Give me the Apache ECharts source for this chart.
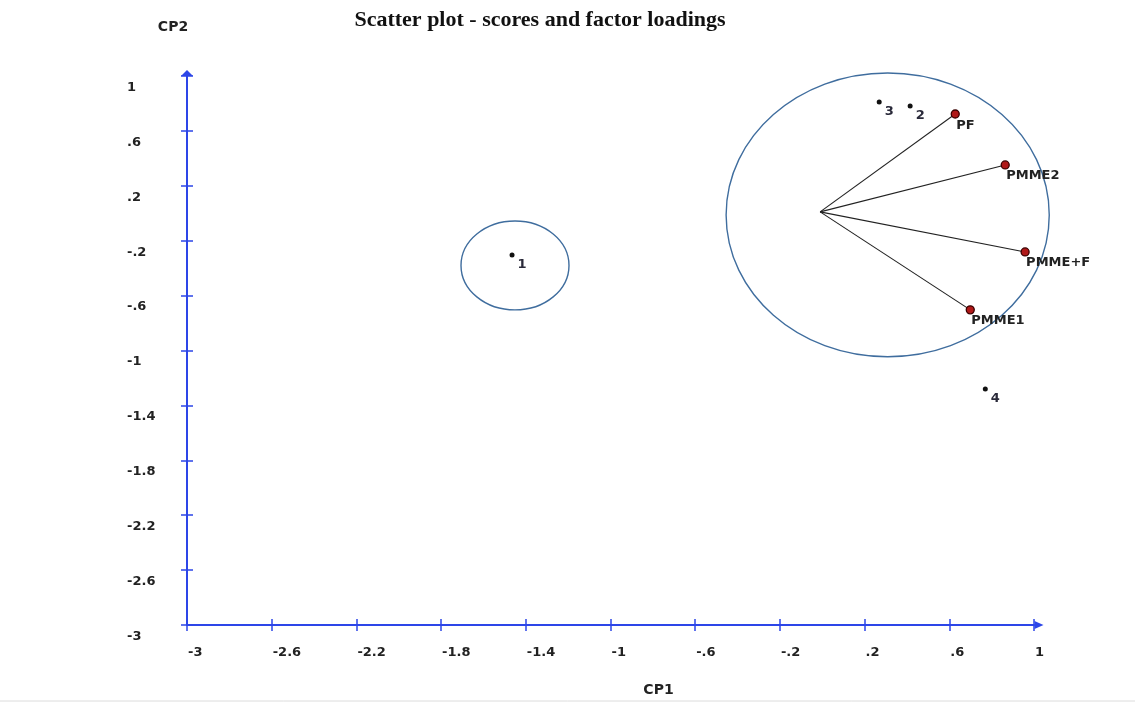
<!DOCTYPE html>
<html>
<head>
<meta charset="utf-8">
<title>Scatter plot - scores and factor loadings</title>
<script src="https://cdn.jsdelivr.net/npm/echarts@6/dist/echarts.min.js"></script>
<style>
	html, body { margin: 0; padding: 0; background: #fff; }
	#chart { width: 1135px; height: 704px; }
</style>
</head>
<body>
<div id="chart"></div>
<script type="text/javascript">
	// scores (observations)
	var scoreNames = ['1', '2', '3', '4'];
	var scoreCP1 = [-1.465, 0.415, 0.269, 0.770];
	var scoreCP2 = [-0.304, 0.782, 0.811, -1.280];

	// factor loadings (variables)
	var loadingNames = ['PF', 'PMME2', 'PMME+F', 'PMME1'];
	var loadingCP1 = [0.628, 0.864, 0.958, 0.699];
	var loadingCP2 = [0.723, 0.352, -0.282, -0.704];
	var vectorOrigin = [-0.01, 0.01];

	// grouping circles: center and radii in axis units
	var circleCP1 = [-1.451, 0.309];
	var circleCP2 = [-0.380, -0.012];
	var circleRx = [0.255, 0.763];
	var circleRy = [0.324, 1.034];

	var axisMin = -3, axisMax = 1, axisStep = 0.4;

	var axisBlue = '#2d46e8';

	function fmt(v) {
		var s = String(Math.round(v * 10) / 10);
		return s.replace('0.', '.');
	}

	var scoreData = scoreNames.map(function (n, i) { return { name: n, value: [scoreCP1[i], scoreCP2[i]] }; });
	var loadingData = loadingNames.map(function (n, i) { return { name: n, value: [loadingCP1[i], loadingCP2[i]] }; });
	var vectorData = loadingNames.map(function (n, i) { return { coords: [vectorOrigin, [loadingCP1[i], loadingCP2[i]]] }; });
	var circleData = circleCP1.map(function (c, i) { return [c, circleCP2[i], circleRx[i], circleRy[i]]; });

	function baseAxis(extra) {
		var a = {
			type: 'value',
			min: axisMin,
			max: axisMax,
			interval: axisStep,
			splitLine: { show: false },
			axisTick: { show: true, length: 6, lineStyle: { color: axisBlue, width: 1.5 } },
			axisLabel: { show: false }
		};
		for (var k in extra) a[k] = extra[k];
		return a;
	}

	// second copy of each axis only draws the inner half of the crossing ticks
	var innerTicks = { show: true, inside: true, length: 6, lineStyle: { color: axisBlue, width: 1.5 } };

	var chart = echarts.init(document.getElementById('chart'));
	var option = {
		animation: false,
		title: {
			text: 'Scatter plot - scores and factor loadings',
			left: 540,
			top: 9,
			textAlign: 'center',
			padding: 0,
			textStyle: { fontFamily: 'Liberation Serif', fontWeight: 'bold', fontSize: 22, color: '#111' }
		},
		grid: { left: 187, top: 76, width: 847, height: 549 },
		xAxis: [
			baseAxis({
				name: 'CP1',
				nameLocation: 'middle',
				nameGap: 58,
				nameTextStyle: { fontFamily: 'DejaVu Sans', fontWeight: 'bold', fontSize: 14, color: '#222', padding: [0, 0, 0, 96] },
				axisLine: { show: true, onZero: false, symbol: ['none', 'triangle'], symbolSize: [8, 9], symbolOffset: [0, 5], lineStyle: { color: axisBlue, width: 2 } },
				axisLabel: { show: true, margin: 21, align: 'left', padding: [0, 0, 0, 1], formatter: fmt, fontFamily: 'DejaVu Sans', fontWeight: 'bold', fontSize: 13, color: '#222' }
			}),
			baseAxis({ position: 'bottom', axisLine: { show: false, onZero: false }, axisTick: innerTicks })
		],
		yAxis: [
			baseAxis({
				name: 'CP2',
				nameLocation: 'end',
				nameGap: 42,
				nameTextStyle: { fontFamily: 'DejaVu Sans', fontWeight: 'bold', fontSize: 14, color: '#222', padding: [0, 28, 0, 0] },
				axisLine: { show: true, onZero: false, symbol: ['none', 'triangle'], symbolSize: [12, 6], symbolOffset: [0, 3], lineStyle: { color: axisBlue, width: 2 } },
				axisLabel: { show: true, margin: 60, align: 'left', verticalAlign: 'top', padding: [5, 0, 0, 0], formatter: fmt, fontFamily: 'DejaVu Sans', fontWeight: 'bold', fontSize: 13, color: '#222' }
			}),
			baseAxis({ position: 'left', axisLine: { show: false, onZero: false }, axisTick: innerTicks })
		],
		series: [
			{
				type: 'custom',
				coordinateSystem: 'cartesian2d',
				data: circleData,
				silent: true,
				renderItem: function (params, api) {
					var c = api.coord([api.value(0), api.value(1)]);
					var s = api.size([api.value(2), api.value(3)]);
					return {
						type: 'ellipse',
						shape: { cx: c[0], cy: c[1], rx: s[0], ry: s[1] },
						style: { fill: 'none', stroke: '#3f6d9e', lineWidth: 1.4 }
					};
				}
			},
			{
				type: 'lines',
				coordinateSystem: 'cartesian2d',
				data: vectorData,
				silent: true,
				lineStyle: { color: '#222', width: 1.1, opacity: 1 }
			},
			{
				type: 'scatter',
				data: loadingData,
				symbol: 'circle',
				symbolSize: 8,
				itemStyle: { color: '#b01818', borderColor: '#3a0000', borderWidth: 1.3, opacity: 1 },
				label: {
					show: true,
					position: 'bottom',
					align: 'left',
					distance: 0,
					offset: [1, 0],
					formatter: '{b}',
					fontFamily: 'DejaVu Sans',
					fontWeight: 'bold',
					fontSize: 13,
					color: '#222'
				}
			},
			{
				type: 'scatter',
				data: scoreData,
				symbol: 'circle',
				symbolSize: 5,
				itemStyle: { color: '#111', opacity: 1 },
				label: {
					show: true,
					position: 'right',
					distance: 3,
					offset: [0, 10],
					formatter: '{b}',
					fontFamily: 'DejaVu Sans',
					fontWeight: 'bold',
					fontSize: 13,
					color: '#2a2a3a'
				}
			}
		],
		graphic: [
			{ type: 'line', shape: { x1: 0, y1: 701, x2: 1135, y2: 701 }, style: { stroke: '#dcdcdc', lineWidth: 1 } }
		]
	};
	chart.setOption(option);
</script>
</body>
</html>
